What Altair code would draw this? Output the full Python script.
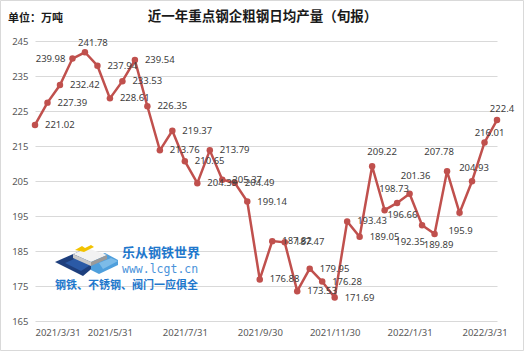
import json
import base64
import altair as alt
import pandas as pd

# ---------------- data ----------------
values = [221.02, 227.39, 232.42, 239.98, 241.78, 237.94, 228.61, 233.53, 239.54, 226.35,
          213.76, 219.37, 210.65, 204.39, 213.79, 205.37, 204.49, 199.14, 176.88, 187.82,
          187.47, 173.53, 179.95, 176.28, 171.69, 193.43, 189.05, 209.22, 196.66, 198.73,
          201.36, 192.35, 189.89, 207.78, 195.9, 204.93, 216.01, 222.4]
tick_labels = ["2021/3/31", "2021/5/31", "2021/7/31", "2021/9/30",
               "2021/11/30", "2022/1/31", "2022/3/31"]
tick_step = 6
y_ticks = [165, 175, 185, 195, 205, 215, 225, 235, 245]

title_text = "近一年重点钢企粗钢日均产量（旬报）"
unit_text = "单位：万吨"
wm_name = "乐从钢铁世界"
wm_url = "www.lcgt.cn"
wm_slogan = "钢铁、不锈钢、阀门一应俱全"

# ---------------- styling ----------------
W, H = 462, 280
RED = "#c0504d"
NUM_FONT = "Noto Sans"
CJK_FONT = "Noto Sans CJK SC"

# label placement (align, dx, dy) per point index; default is right of the point
default_place = ("left", 10, 0)
special_place = {
    3: ("right", -7, 0),
    4: ("center", 8, -9),
    27: ("center", 10, -14),
    28: ("left", 3, 5),
    29: ("center", -3, -14),
    30: ("center", 6, -18),
    31: ("center", -12, 17),
    32: ("center", 4, 11),
    33: ("center", -8, -19),
    34: ("center", 1, 18),
    35: ("center", 2, -13),
    36: ("center", 5, -9),
    37: ("center", 5, -11),
}

df = pd.DataFrame({
    "i": list(range(len(values))),
    "v": values,
    "lab": [str(v) for v in values],
})

x_enc = alt.X("i:Q",
              scale=alt.Scale(domain=[0, len(values) - 1], nice=False, zero=False),
              axis=alt.Axis(values=[k * tick_step for k in range(len(tick_labels))],
                            labelExpr=f"{json.dumps(tick_labels)}[round(datum.value/{tick_step})]",
                            title=None, grid=False, domain=False, ticks=False,
                            labelOverlap=False,
                            labelPadding=6, labelFontSize=9.5, labelColor="#595959",
                            labelFont=NUM_FONT))
y_enc = alt.Y("v:Q",
              scale=alt.Scale(domain=[165, 245], nice=False, zero=False),
              axis=alt.Axis(values=y_ticks, title=None, domain=False, ticks=False,
                            grid=True, gridColor="#d9d9d9", gridWidth=1,
                            labelOverlap=False,
                            labelPadding=7, labelFontSize=9.5, labelColor="#595959",
                            labelFont=NUM_FONT))

base = alt.Chart(df)
line = base.mark_line(color=RED, strokeWidth=2.5).encode(x=x_enc, y=y_enc)
pts = base.mark_circle(color=RED, size=42, opacity=1).encode(x=x_enc, y=y_enc)

# group label indices by placement
groups = {}
for idx in range(len(values)):
    p = special_place.get(idx, default_place)
    groups.setdefault(p, []).append(idx)

label_layers = []
for (align, dx, dy), idxs in groups.items():
    label_layers.append(
        base.transform_filter(alt.FieldOneOfPredicate(field="i", oneOf=idxs))
        .mark_text(align=align, baseline="middle", dx=dx, dy=dy, fontSize=9.5,
                   font=NUM_FONT, color="#404040")
        .encode(x=x_enc, y=y_enc, text="lab:N")
    )

one = pd.DataFrame({"a": [0]})
deco = alt.Chart(one)

border = deco.mark_rect(fill=None, stroke="#d9d9d9", strokeWidth=1).encode(
    x=alt.value(-34.5), x2=alt.value(488.5), y=alt.value(-40.5), y2=alt.value(309.5))

title = deco.mark_text(font=CJK_FONT, fontSize=13.5, fontWeight="bold", color="#1a1a1a",
                       align="center", baseline="middle").encode(
    x=alt.value(227.5), y=alt.value(-24), text=alt.value(title_text))
unit = deco.mark_text(font=CJK_FONT, fontSize=11, fontWeight="bold", color="#1a1a1a",
                      align="left", baseline="middle").encode(
    x=alt.value(-27), y=alt.value(-22), text=alt.value(unit_text))

# watermark logo (decorative)
svg = """<svg xmlns='http://www.w3.org/2000/svg' width='64' height='34' viewBox='0 0 64 34'>
<polygon points='0,19 25,8 47,17 28,33' fill='#1e3f7d'/>
<polygon points='10,20 26,13 40,19 26,28' fill='#2b5aa6'/>
<polygon points='36,16 50,10 63,17 63,22 44,31 36,27' fill='#4f9fdc'/>
<polygon points='44,20 56,15 63,18 48,26' fill='#7cbbe8'/>
<polygon points='18,11 32,5 52,12 36,19' fill='#f2f2f2'/>
<polygon points='18,11 36,19 36,23 18,15' fill='#c9c9c9'/>
<polygon points='36,19 52,12 52,16 36,23' fill='#9a9a9a'/>
<polygon points='20,7 27,3 30,5 36,2 39,4 29,9' fill='#f2c200'/>
</svg>"""
uri = "data:image/svg+xml;base64," + base64.b64encode(svg.encode()).decode()
logo = deco.mark_image(width=64, height=34, align="left", baseline="top").encode(
    x=alt.value(20), y=alt.value(202), url=alt.value(uri))
wm1 = deco.mark_text(font=CJK_FONT, fontSize=13, fontWeight="bold", color="#1f78cc",
                     align="left", baseline="middle").encode(
    x=alt.value(87), y=alt.value(212), text=alt.value(wm_name))
wm2 = deco.mark_text(font="DejaVu Sans Mono", fontSize=11.5, color="#4a92da",
                     align="left", baseline="middle").encode(
    x=alt.value(87), y=alt.value(229), text=alt.value(wm_url))
wm3 = deco.mark_text(font=CJK_FONT, fontSize=11, fontWeight="bold", color="#1f78cc",
                     align="left", baseline="middle").encode(
    x=alt.value(20), y=alt.value(245), text=alt.value(wm_slogan))

chart = alt.layer(border, logo, wm1, wm2, wm3, line, pts, *label_layers, title, unit).properties(
    width=W, height=H,
    autosize=alt.AutoSizeParams(type="none"),
    padding={"left": 35, "top": 41, "right": 28, "bottom": 32},
    background="white",
).configure_view(stroke=None)

chart.save("out.html", embed_options={"renderer": "svg", "actions": False})
